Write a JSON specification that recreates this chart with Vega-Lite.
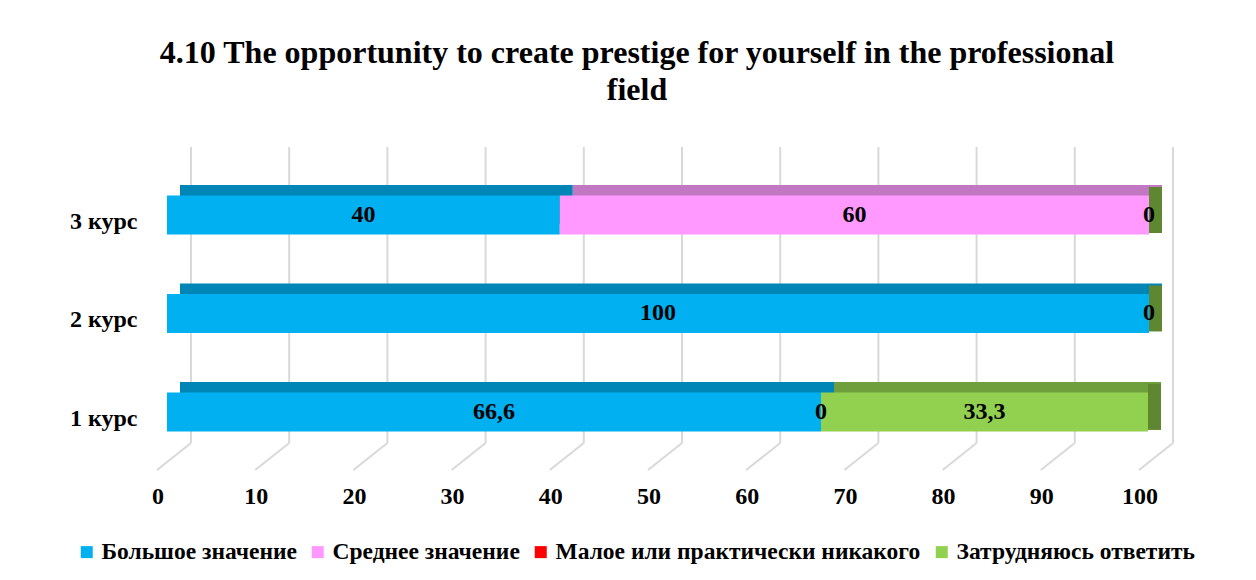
{
  "$schema": "https://vega.github.io/schema/vega-lite/v6.json",
  "width": 982,
  "height": 323,
  "autosize": {"type": "none"},
  "padding": {"left": 167, "top": 147, "right": 107, "bottom": 110},
  "background": "white",
  "title": {
    "text": ["4.10 The opportunity to create prestige for yourself in the professional", "field"],
    "font": "Liberation Serif",
    "fontSize": 32,
    "fontWeight": "bold",
    "color": "black",
    "lineHeight": 37,
    "anchor": "middle",
    "frame": "group",
    "dx": -21,
    "offset": 39
  },
  "config": {
    "view": {"stroke": null},
    "axisX": {"title": null, "domain": false, "ticks": false, "grid": false, "labelFlush": false, "labelFont": "Liberation Serif", "labelFontSize": 24, "labelFontWeight": "bold", "labelColor": "black", "labelOffset": -9.5, "labelPadding": 14},
    "axisY": {"title": null, "domain": false, "ticks": false, "grid": false, "labelFont": "Liberation Serif", "labelFontSize": 24, "labelFontWeight": "bold", "labelColor": "black", "labelOffset": 7, "labelPadding": 30}
  },
  "datasets": {
    "bars": [
      {"course": "3 курс", "cat": "Большое значение", "k": 1, "v": 40, "label": "40"},
      {"course": "3 курс", "cat": "Среднее значение", "k": 2, "v": 60, "label": "60"},
      {"course": "3 курс", "cat": "Затрудняюсь ответить", "k": 4, "v": 0, "label": "0"},
      {"course": "2 курс", "cat": "Большое значение", "k": 1, "v": 100, "label": "100"},
      {"course": "2 курс", "cat": "Затрудняюсь ответить", "k": 4, "v": 0, "label": "0"},
      {"course": "1 курс", "cat": "Большое значение", "k": 1, "v": 66.6, "label": "66,6"},
      {"course": "1 курс", "cat": "Среднее значение", "k": 2, "v": 0, "label": "0"},
      {"course": "1 курс", "cat": "Затрудняюсь ответить", "k": 4, "v": 33.3, "label": "33,3"}
    ],
    "grid": [{"t": 0}, {"t": 10}, {"t": 20}, {"t": 30}, {"t": 40}, {"t": 50}, {"t": 60}, {"t": 70}, {"t": 80}, {"t": 90}, {"t": 100}]
  },
  "layer": [
    {
      "data": {"name": "grid"},
      "mark": {"type": "rule", "color": "#D9D9D9", "strokeWidth": 2, "xOffset": 24, "y2Offset": -27},
      "encoding": {
        "x": {"field": "t", "type": "quantitative", "scale": {"domain": [0, 100], "nice": false}, "axis": {"values": [0, 10, 20, 30, 40, 50, 60, 70, 80, 90, 100], "labelFlush": false}},
        "y": {"value": 0},
        "y2": {"value": "height"}
      }
    },
    {
      "data": {"name": "grid"},
      "mark": {"type": "rule", "color": "#D9D9D9", "strokeWidth": 2, "xOffset": -10, "x2Offset": 24, "y2Offset": -27},
      "encoding": {
        "x": {"field": "t", "type": "quantitative"},
        "x2": {"field": "t"},
        "y": {"value": "height"},
        "y2": {"value": "height"}
      }
    },
    {
      "data": {"name": "bars"},
      "transform": [{"stack": "v", "groupby": ["course"], "sort": [{"field": "k"}], "as": ["x0", "x1"]}],
      "mark": {"type": "bar", "size": 39, "xOffset": 13, "x2Offset": 13, "yOffset": -10.5},
      "encoding": {
        "y": {"field": "course", "type": "nominal", "sort": ["3 курс", "2 курс", "1 курс"], "scale": {"paddingInner": 0, "paddingOuter": 0.14, "align": 0.68}},
        "x": {"field": "x0", "type": "quantitative"},
        "x2": {"field": "x1"},
        "fill": {"field": "cat", "type": "nominal", "scale": {"domain": ["Затрудняюсь ответить", "Большое значение", "Среднее значение", "Малое или практически никакого"], "range": ["#6F9E3D", "#0086B6", "#C177C1", "#C00000"]}, "legend": null}
      }
    },
    {
      "data": {"name": "bars"},
      "transform": [
        {"stack": "v", "groupby": ["course"], "sort": [{"field": "k"}], "as": ["x0", "x1"]},
        {"filter": "datum.cat === 'Затрудняюсь ответить'"}
      ],
      "mark": {"type": "bar", "size": 46, "x2Offset": 13, "yOffset": -5, "color": "#5F8731"},
      "encoding": {
        "y": {"field": "course", "type": "nominal", "sort": ["3 курс", "2 курс", "1 курс"]},
        "x": {"field": "x1", "type": "quantitative"},
        "x2": {"field": "x1"}
      }
    },
    {
      "data": {"name": "bars"},
      "transform": [{"stack": "v", "groupby": ["course"], "sort": [{"field": "k"}], "as": ["x0", "x1"]}],
      "mark": {"type": "bar", "size": 39},
      "encoding": {
        "y": {"field": "course", "type": "nominal", "sort": ["3 курс", "2 курс", "1 курс"]},
        "x": {"field": "x0", "type": "quantitative"},
        "x2": {"field": "x1"},
        "color": {
          "field": "cat", "type": "nominal",
          "scale": {"domain": ["Большое значение", "Среднее значение", "Малое или практически никакого", "Затрудняюсь ответить"], "range": ["#00B0F0", "#FF99FF", "#FF0000", "#92D050"]},
          "legend": {"orient": "none", "legendX": -92, "legendY": 393, "direction": "horizontal", "title": null, "symbolType": "square", "symbolSize": 144, "symbolStrokeWidth": 0, "labelFont": "Liberation Serif", "labelFontSize": 23.5, "labelFontWeight": "bold", "labelColor": "black", "labelOffset": 3, "columnPadding": 9, "labelLimit": 0}
        }
      }
    },
    {
      "data": {"name": "bars"},
      "transform": [
        {"stack": "v", "groupby": ["course"], "sort": [{"field": "k"}], "as": ["x0", "x1"]},
        {"fold": ["x0", "x1"], "as": ["edge", "pos"]},
        {"aggregate": [{"op": "mean", "field": "pos", "as": "mid"}], "groupby": ["course", "cat", "label"]}
      ],
      "mark": {"type": "text", "font": "Liberation Serif", "fontSize": 24, "fontWeight": "bold", "color": "black", "baseline": "middle", "align": "center"},
      "encoding": {
        "y": {"field": "course", "type": "nominal", "sort": ["3 курс", "2 курс", "1 курс"]},
        "x": {"field": "mid", "type": "quantitative"},
        "text": {"field": "label"}
      }
    }
  ]
}
